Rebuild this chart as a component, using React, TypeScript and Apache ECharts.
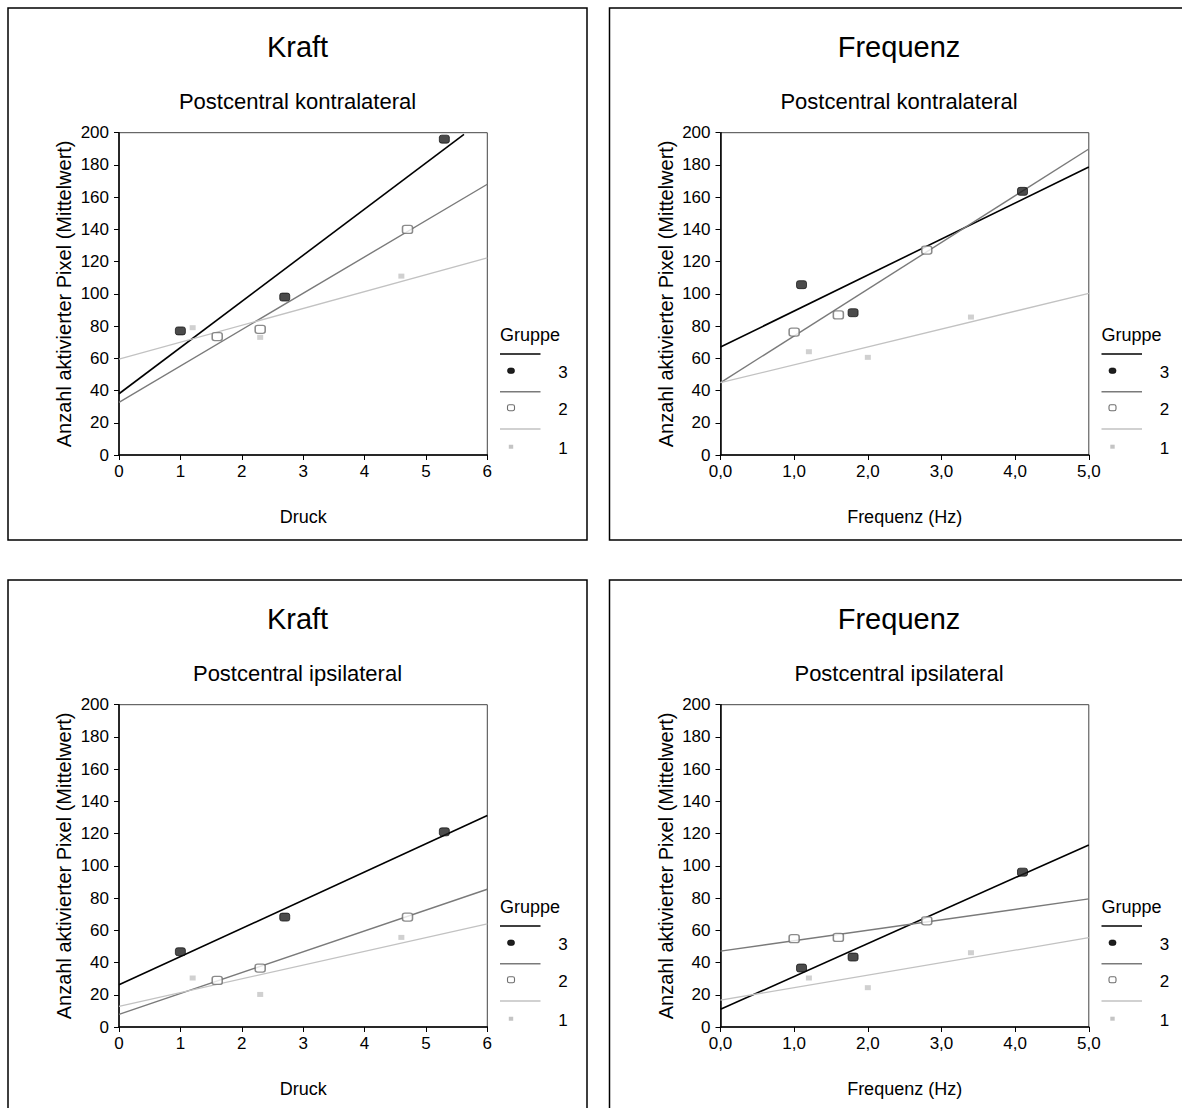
import React, { useEffect, useRef } from 'react';
import * as echarts from 'echarts';

const FONT = '"Liberation Sans", Arial, Helvetica, sans-serif';

// ---------- texts ----------
const panelTitles = ['Kraft', 'Frequenz', 'Kraft', 'Frequenz'];
const panelSubtitles = [
  'Postcentral kontralateral',
  'Postcentral kontralateral',
  'Postcentral ipsilateral',
  'Postcentral ipsilateral',
];
const xAxisNames = ['Druck', 'Frequenz (Hz)', 'Druck', 'Frequenz (Hz)'];
const xAxisMax = [6, 5, 6, 5];
const xAxisDecimals = [0, 1, 0, 1];
const yAxisName = 'Anzahl aktivierter Pixel (Mittelwert)';
const yMin = 0;
const yMax = 200;
const yStep = 20;
const legendTitle = 'Gruppe';
const groupNames = ['3', '2', '1'];

// ---------- data: mean values per group [x, y] ----------
// Kraft – Postcentral kontralateral
const kraftKontraG3 = [[1.0, 77], [2.7, 98], [5.3, 196]];
const kraftKontraG2 = [[1.6, 73.5], [2.3, 78], [4.7, 140]];
const kraftKontraG1 = [[1.2, 79], [2.3, 73], [4.6, 111]];
const kraftKontraFitG3 = [[0, 38], [5.62, 199]];
const kraftKontraFitG2 = [[0, 32.7], [6, 168]];
const kraftKontraFitG1 = [[0, 59.5], [6, 122.4]];

// Frequenz – Postcentral kontralateral
const freqKontraG3 = [[1.1, 105.7], [1.8, 88.3], [4.1, 163.6]];
const freqKontraG2 = [[1.0, 76.3], [1.6, 86.9], [2.8, 127.2]];
const freqKontraG1 = [[1.2, 64.1], [2.0, 60.6], [3.4, 85.6]];
const freqKontraFitG3 = [[0, 67], [5, 178.7]];
const freqKontraFitG2 = [[0, 44.9], [5, 189.9]];
const freqKontraFitG1 = [[0, 44.9], [5, 100.3]];

// Kraft – Postcentral ipsilateral
const kraftIpsiG3 = [[1.0, 46.7], [2.7, 68.2], [5.3, 121.1]];
const kraftIpsiG2 = [[1.6, 28.9], [2.3, 36.6], [4.7, 68.2]];
const kraftIpsiG1 = [[1.2, 30.4], [2.3, 20.2], [4.6, 55.6]];
const kraftIpsiFitG3 = [[0, 26.2], [6, 131.2]];
const kraftIpsiFitG2 = [[0, 7.8], [6, 85.5]];
const kraftIpsiFitG1 = [[0, 12.8], [6, 64]];

// Frequenz – Postcentral ipsilateral
const freqIpsiG3 = [[1.1, 36.6], [1.8, 43.4], [4.1, 96.1]];
const freqIpsiG2 = [[1.0, 54.8], [1.6, 55.6], [2.8, 65.9]];
const freqIpsiG1 = [[1.2, 30.4], [2.0, 24.4], [3.4, 46.1]];
const freqIpsiFitG3 = [[0, 11], [5, 113]];
const freqIpsiFitG2 = [[0, 47.1], [5, 79.5]];
const freqIpsiFitG1 = [[0, 16.7], [5, 55.4]];

const panelPoints = [
  [kraftKontraG3, kraftKontraG2, kraftKontraG1],
  [freqKontraG3, freqKontraG2, freqKontraG1],
  [kraftIpsiG3, kraftIpsiG2, kraftIpsiG1],
  [freqIpsiG3, freqIpsiG2, freqIpsiG1],
];
const panelFits = [
  [kraftKontraFitG3, kraftKontraFitG2, kraftKontraFitG1],
  [freqKontraFitG3, freqKontraFitG2, freqKontraFitG1],
  [kraftIpsiFitG3, kraftIpsiFitG2, kraftIpsiFitG1],
  [freqIpsiFitG3, freqIpsiFitG2, freqIpsiFitG1],
];

// ---------- styles ----------
const lineColors = ['#000000', '#7a7a7a', '#c2c2c2'];
const lineWidths = [1.6, 1.4, 1.3];

const W = 1182;
const H = 1108;
const BOX_W = 579;
const BOX_H = 532;
const boxXs = [8, 609.5];
const boxYs = [8, 580];

function buildOption() {
  const grids: any[] = [];
  const xAxes: any[] = [];
  const yAxes: any[] = [];
  const series: any[] = [];
  const graphics: any[] = [];

  for (let p = 0; p < 4; p++) {
    const bx = boxXs[p % 2];
    const by = boxYs[Math.floor(p / 2)];

    grids.push({
      left: bx + 111,
      top: by + 124.7,
      width: 368.3,
      height: 322.3,
      show: true,
      borderColor: '#444',
      borderWidth: 1,
      backgroundColor: 'transparent',
    });

    const dec = xAxisDecimals[p];
    xAxes.push({
      type: 'value',
      gridIndex: p,
      min: 0,
      max: xAxisMax[p],
      interval: 1,
      name: xAxisNames[p],
      nameLocation: 'middle',
      nameGap: 53,
      nameTextStyle: { color: '#000', fontSize: 18, fontFamily: FONT },
      axisLine: { show: true, onZero: false, lineStyle: { color: '#000', width: 1.5 } },
      axisTick: { show: true, length: 5, lineStyle: { color: '#000', width: 1 } },
      axisLabel: {
        color: '#000',
        fontSize: 17,
        fontFamily: FONT,
        margin: 8,
        formatter: (v: number) => (dec ? v.toFixed(dec).replace('.', ',') : String(v)),
      },
      splitLine: { show: false },
    });

    yAxes.push({
      type: 'value',
      gridIndex: p,
      min: yMin,
      max: yMax,
      interval: yStep,
      name: yAxisName,
      nameLocation: 'middle',
      nameGap: 45,
      nameRotate: 90,
      nameTextStyle: { color: '#000', fontSize: 20, fontFamily: FONT },
      axisLine: { show: true, onZero: false, lineStyle: { color: '#000', width: 1.5 } },
      axisTick: { show: true, length: 5, lineStyle: { color: '#000', width: 1 } },
      axisLabel: { color: '#000', fontSize: 17, fontFamily: FONT, margin: 10 },
      splitLine: { show: false },
    });

    for (let g = 0; g < 3; g++) {
      series.push({
        type: 'line',
        name: groupNames[g],
        xAxisIndex: p,
        yAxisIndex: p,
        data: panelFits[p][g],
        showSymbol: false,
        symbol: 'none',
        silent: true,
        z: 2,
        lineStyle: { color: lineColors[g], width: lineWidths[g] },
      });
    }
    // scatter points: draw lightest first
    const scatterStyles = [
      { symbol: 'roundRect', size: [10, 8], item: { color: '#1e1e1e', borderColor: '#000', borderWidth: 0.8 } },
      { symbol: 'roundRect', size: [10, 8], item: { color: '#ffffff', borderColor: '#6e6e6e', borderWidth: 1.4 } },
      { symbol: 'rect', size: [6, 5], item: { color: '#c4c4c4' } },
    ];
    for (let g = 2; g >= 0; g--) {
      series.push({
        type: 'scatter',
        name: groupNames[g],
        xAxisIndex: p,
        yAxisIndex: p,
        data: panelPoints[p][g],
        symbol: scatterStyles[g].symbol,
        symbolSize: scatterStyles[g].size,
        itemStyle: scatterStyles[g].item,
        z: 3 + (2 - g),
      });
    }

    // box frame
    graphics.push({
      type: 'rect',
      shape: { x: bx, y: by, width: BOX_W, height: BOX_H },
      style: { fill: 'none', stroke: '#000', lineWidth: 1.5 },
      silent: true,
    });
    // titles
    graphics.push({
      type: 'text',
      x: bx + 289.5,
      y: by + 39,
      style: {
        text: panelTitles[p],
        fontSize: 29,
        fontFamily: FONT,
        fill: '#000',
        textAlign: 'center',
        textVerticalAlign: 'middle',
      },
    });
    graphics.push({
      type: 'text',
      x: bx + 289.5,
      y: by + 93,
      style: {
        text: panelSubtitles[p],
        fontSize: 22,
        fontFamily: FONT,
        fill: '#000',
        textAlign: 'center',
        textVerticalAlign: 'middle',
      },
    });

    // legend
    graphics.push({
      type: 'text',
      x: bx + 492,
      y: by + 327,
      style: {
        text: legendTitle,
        fontSize: 18,
        fontFamily: FONT,
        fill: '#000',
        textAlign: 'left',
        textVerticalAlign: 'middle',
      },
    });
    const lineYs = [346, 383.7, 421];
    const markYs = [362.7, 399.7, 438.7];
    for (let g = 0; g < 3; g++) {
      graphics.push({
        type: 'line',
        shape: { x1: bx + 492, y1: by + lineYs[g], x2: bx + 532.5, y2: by + lineYs[g] },
        style: { stroke: lineColors[g], lineWidth: lineWidths[g] },
        silent: true,
      });
      const mx = bx + 503;
      const my = by + markYs[g];
      if (g === 0) {
        graphics.push({
          type: 'rect',
          shape: { x: mx - 3.5, y: my - 2.7, width: 7, height: 5.4, r: 2.5 },
          style: { fill: '#1e1e1e', stroke: '#000', lineWidth: 0.6 },
          silent: true,
        });
      } else if (g === 1) {
        graphics.push({
          type: 'rect',
          shape: { x: mx - 3.5, y: my - 3, width: 7, height: 6, r: 1.8 },
          style: { fill: '#fff', stroke: '#6e6e6e', lineWidth: 1.1 },
          silent: true,
        });
      } else {
        graphics.push({
          type: 'rect',
          shape: { x: mx - 2.2, y: my - 2, width: 4.4, height: 4 },
          style: { fill: '#c4c4c4' },
          silent: true,
        });
      }
      graphics.push({
        type: 'text',
        x: bx + 555,
        y: by + markYs[g] + 2,
        style: {
          text: groupNames[g],
          fontSize: 17,
          fontFamily: FONT,
          fill: '#000',
          textAlign: 'center',
          textVerticalAlign: 'middle',
        },
      });
    }
  }

  return {
    animation: false,
    backgroundColor: '#ffffff',
    textStyle: { fontFamily: FONT },
    grid: grids,
    xAxis: xAxes,
    yAxis: yAxes,
    series,
    graphic: graphics,
  };
}

export default function App() {
  const ref = useRef<HTMLDivElement>(null);
  useEffect(() => {
    if (!ref.current) return;
    const chart = echarts.init(ref.current, undefined, { renderer: 'svg', width: W, height: H });
    chart.setOption(buildOption() as any);
    return () => chart.dispose();
  }, []);
  return (
    <div
      ref={ref}
      style={{ position: 'absolute', left: 0, top: 0, width: W, height: H, background: '#fff', overflow: 'hidden' }}
    />
  );
}
